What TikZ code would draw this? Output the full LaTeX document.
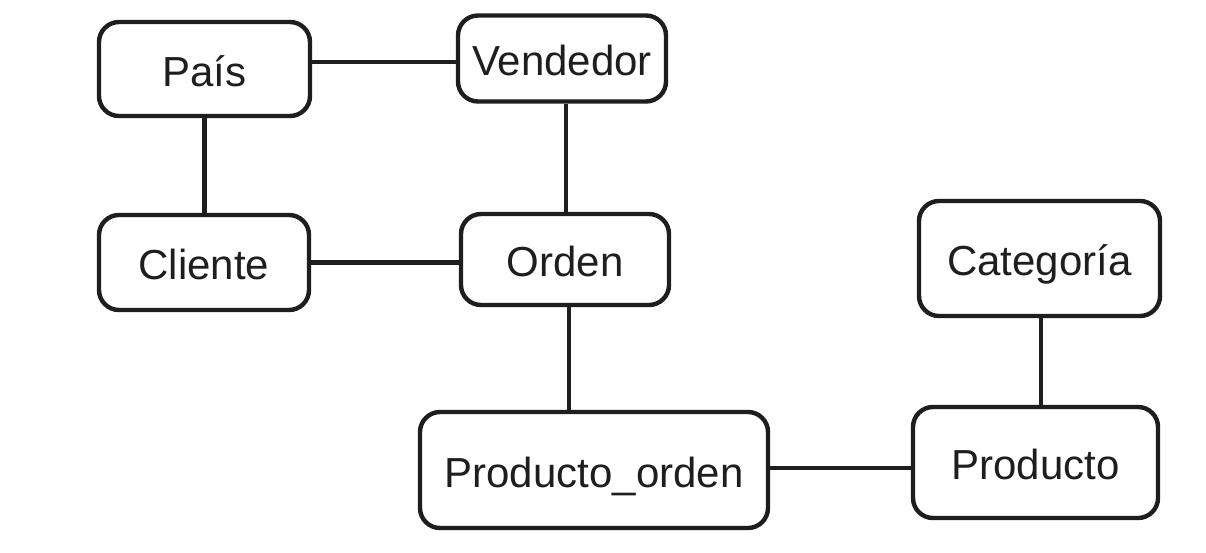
\documentclass[tikz,border=0pt]{standalone}
\usepackage{fontspec}
\setmainfont{Liberation Sans}
\definecolor{ink}{HTML}{1E1E1E}
\begin{document}
\begin{tikzpicture}[x=1pt,y=-1pt,
  entity/.style={draw=ink, line width=4.4pt, rounded corners=20pt, fill=white,
    inner sep=0pt, text=ink, text height=34pt, text depth=0pt,
    font=\fontsize{42}{50}\selectfont},
  link/.style={draw=ink, line width=4.4pt}]
\useasboundingbox (0,0) rectangle (1206,552);
\node[entity, minimum width=211pt, minimum height=94pt] (pais) at (204.5,69) {País};
\node[entity, minimum width=208pt, minimum height=86pt] (vend) at (562,58.5) {Vendedor};
\node[entity, minimum width=210pt, minimum height=95pt] (cli) at (204,262.5) {Cliente};
\node[entity, minimum width=208pt, minimum height=91pt] (ord) at (565,259.5) {Orden};
\node[entity, minimum width=241pt, minimum height=115pt] (cat) at (1039.5,258.5) {Categoría};
\node[entity, minimum width=348pt, minimum height=116pt] (po) at (594,470) {Producto\_orden};
\node[entity, minimum width=245pt, minimum height=111pt] (prod) at (1035.5,462.5) {Producto};
\draw[link] ([yshift=7pt]pais.east) -- ([yshift=7pt]pais.east -| vend.west);
\draw[link] (pais.south) -- (pais.south |- cli.north);
\draw[link] ([xshift=4pt]vend.south) -- ([xshift=4pt]vend.south |- ord.north);
\draw[link] (cli.east) -- (cli.east -| ord.west);
\draw[link] ([xshift=4pt]ord.south) -- ([xshift=4pt]ord.south |- po.north);
\draw[link] ([yshift=2pt]po.east) -- ([yshift=2pt]po.east -| prod.west);
\draw[link] ([xshift=1.5pt]cat.south) -- ([xshift=1.5pt]cat.south |- prod.north);
\end{tikzpicture}
\end{document}
